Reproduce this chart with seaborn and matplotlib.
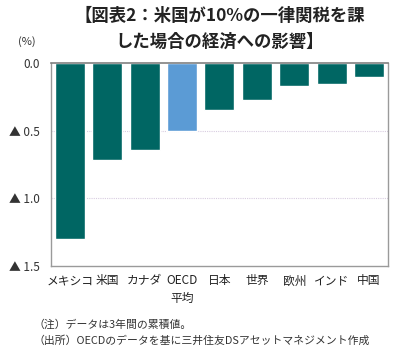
import matplotlib
matplotlib.use("Agg")
import matplotlib.pyplot as plt
import seaborn as sns
import pandas as pd

categories = ["メキシコ", "米国", "カナダ", "OECD\n平均", "日本", "世界", "欧州", "インド", "中国"]
values = [1.30, 0.72, 0.64, 0.50, 0.35, 0.27, 0.17, 0.155, 0.10]
colors = ["#006663", "#006663", "#006663", "#5b9bd5", "#006663", "#006663", "#006663", "#006663", "#006663"]
yticks = [0.0, 0.5, 1.0, 1.5]
yticklabels = ["0.0", "▲ 0.5", "▲ 1.0", "▲ 1.5"]

sns.set_theme(style="white")
plt.rcParams['font.family'] = ['Noto Sans CJK JP', 'DejaVu Sans']

df = pd.DataFrame({"cat": categories, "val": values})
fig = plt.figure(figsize=(3.99, 3.62), dpi=100)
ax = fig.add_axes([0.128, 0.265, 0.844, 0.561])
sns.barplot(data=df, x="cat", y="val", hue="cat", palette=colors, legend=False,
            width=0.8, ax=ax, saturation=1)
ax.set_ylim(1.5, 0)
ax.set_xlim(-0.5, len(categories) - 0.5)
ax.set_yticks(yticks)
ax.set_yticklabels(yticklabels, fontsize=8.5, color="#333333")
ax.tick_params(axis="x", labelsize=8.5, colors="#222222", length=0, pad=6)
ax.tick_params(axis="y", length=0, pad=8)
for lbl in ax.get_xticklabels():
    lbl.set_linespacing(1.5)
ax.set_xlabel("")
ax.set_ylabel("")
for y in [0.5, 1.0]:
    ax.axhline(y, color="#d8cce0", lw=0.8, ls=(0, (1, 1)), zorder=0)
for s in ["left", "bottom", "right"]:
    ax.spines[s].set_color("#9a9a9a")
    ax.spines[s].set_linewidth(1)
ax.spines["top"].set_color("#808080")
ax.spines["top"].set_linewidth(1.2)

fig.text(0.55, 0.955, "【図表2：米国が10%の一律関税を課", ha="center", va="center",
         fontsize=12.5, fontweight="bold", color="#222222")
fig.text(0.55, 0.885, "した場合の経済への影響】", ha="center", va="center",
         fontsize=12.5, fontweight="bold", color="#222222")
fig.text(0.068, 0.885, "(%)", ha="center", va="center", fontsize=8, color="#333333")
fig.text(0.085, 0.103, "（注）データは3年間の累積値。", ha="left", va="center", fontsize=7.8, color="#333333")
fig.text(0.085, 0.060, "（出所）OECDのデータを基に三井住友DSアセットマネジメント作成", ha="left", va="center", fontsize=7.8, color="#333333")

fig.savefig("out.png", dpi=100)
